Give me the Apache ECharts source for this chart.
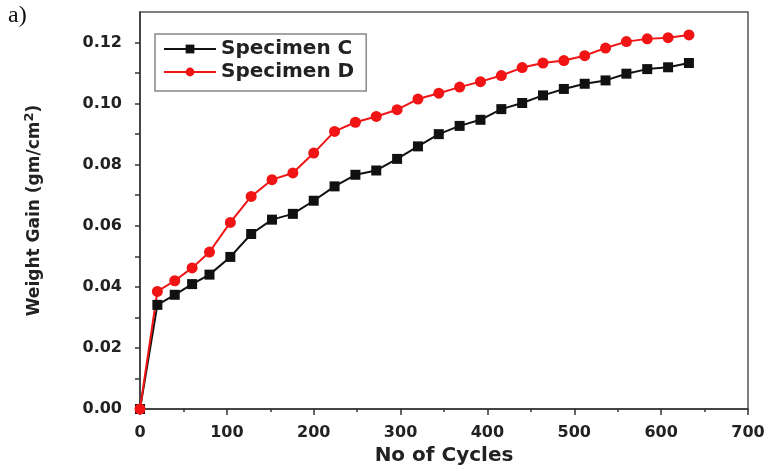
<!DOCTYPE html>
<html><head><meta charset="utf-8">
<script src="https://cdn.jsdelivr.net/npm/echarts@6/dist/echarts.min.js"></script>
<style>html,body{margin:0;padding:0;background:#fff}#c{width:773px;height:469px}</style>
</head><body><div id="c"></div>
<script>
const cycles = [0,20,40,60,80,104,128,152,176,200,224,248,272,296,320,344,368,392,416,440,464,488,512,536,560,584,608,632];
const specimenC = [0,0.0341,0.0374,0.0409,0.0440,0.0498,0.0573,0.0620,0.0639,0.0682,0.0729,0.0767,0.0781,0.0819,0.0860,0.0900,0.0927,0.0947,0.0982,0.1002,0.1027,0.1048,0.1065,0.1076,0.1098,0.1113,0.1119,0.1133];
const specimenD = [0,0.0385,0.0420,0.0462,0.0514,0.0611,0.0696,0.0751,0.0773,0.0838,0.0909,0.0939,0.0958,0.0980,0.1015,0.1034,0.1054,0.1072,0.1092,0.1118,0.1133,0.1141,0.1157,0.1182,0.1203,0.1212,0.1216,0.1225];
const seriesNames = ['Specimen C','Specimen D'];

const F = '"DejaVu Sans", sans-serif';
const chart = echarts.init(document.getElementById('c'), null, {renderer:'canvas'});
chart.setOption({
  animation:false,
  backgroundColor:'#fff',
  graphic:[{type:'text', left:8, top:4, style:{text:'a)', font:'24px "Liberation Serif", serif', fill:'#111'}}],
  grid:{left:140, right:25, top:12, bottom:60, containLabel:false, outerBoundsMode:'none',
    show:true, borderColor:'#555', borderWidth:1.5, backgroundColor:'transparent'},
  legend:{
    orient:'vertical', left:155, top:34, padding:[5,12,9,8], itemGap:3,
    itemWidth:52, itemHeight:11, borderColor:'#888', borderWidth:1.5, borderRadius:0,
    textStyle:{fontFamily:F, fontWeight:'bold', fontSize:20, color:'#222'},
    data:seriesNames
  },
  xAxis:{
    type:'value', min:0, max:700, interval:100,
    name:'No of Cycles', nameLocation:'middle', nameGap:37,
    nameTextStyle:{fontFamily:F, fontWeight:'bold', fontSize:20, color:'#222'},
    axisLine:{lineStyle:{color:'#333', width:1.5}},
    axisTick:{length:6, lineStyle:{color:'#333', width:1.5}},
    minorTick:{show:true, splitNumber:2, length:3, lineStyle:{color:'#333', width:1.5}},
    axisLabel:{margin:16, fontFamily:F, fontWeight:'bold', fontSize:16, color:'#222'},
    splitLine:{show:false}
  },
  yAxis:{
    type:'value', min:0, max:0.13, interval:0.01,
    name:'Weight Gain (gm/cm{sup|2})', nameLocation:'middle', nameGap:93,
    nameTextStyle:{fontFamily:F, fontWeight:'bold', fontSize:17, color:'#222', lineHeight:24,
      rich:{sup:{fontFamily:F, fontWeight:'bold', fontSize:13, color:'#222', verticalAlign:'top', lineHeight:24, padding:[0,0,8,0]}}},
    axisLine:{lineStyle:{color:'#333', width:1.5}},
    axisTick:{length:5, lineStyle:{color:'#333', width:1.5}},
    axisLabel:{margin:18, fontFamily:F, fontWeight:'bold', fontSize:16, color:'#222',
      showMaxLabel:false,
      formatter:function(v){const k=Math.round(v*100); return k%2===0 ? (k/100).toFixed(2) : '';}},
    splitLine:{show:false}
  },
  series:[
    {name:seriesNames[0], type:'line', data:cycles.map((c,i)=>[c,specimenC[i]]),
      symbol:'rect', symbolSize:10, color:'#111', lineStyle:{width:2, color:'#111'}, itemStyle:{color:'#111'}},
    {name:seriesNames[1], type:'line', data:cycles.map((c,i)=>[c,specimenD[i]]),
      symbol:'circle', symbolSize:11, color:'#f01414', lineStyle:{width:2, color:'#f01414'}, itemStyle:{color:'#f01414'}}
  ]
});
</script></body></html>
